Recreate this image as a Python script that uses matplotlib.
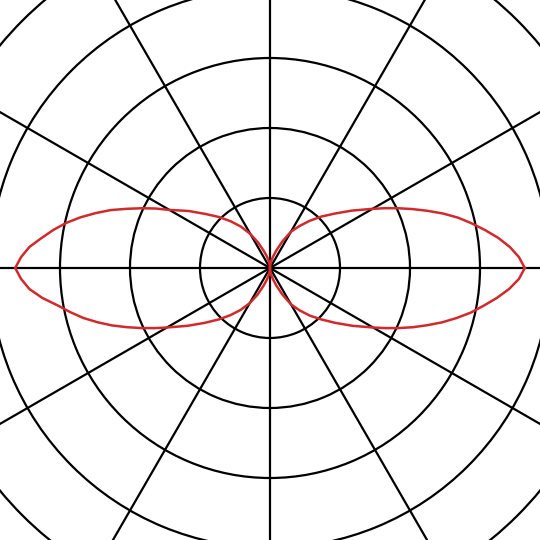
import numpy as np
import matplotlib
matplotlib.use("Agg")
import matplotlib.pyplot as plt

# radiation pattern, radius in grid-ring units
ang_right_up = [0, 2.5, 5, 7.5, 10, 12.5, 15, 17.5, 20, 22.5, 25, 27.5, 30,
                35, 40, 45, 50, 55, 60, 65, 70, 75, 80, 85, 90]
r_right_up = [3.64, 3.56, 3.44, 3.29, 3.12, 2.95, 2.78, 2.59, 2.39, 2.20, 2.02, 1.85, 1.69,
              1.43, 1.21, 1.04, 0.88, 0.73, 0.60, 0.42, 0.27, 0.17, 0.10, 0.04, 0.0]
ang_left_up = [90, 95, 100, 105, 110, 115, 120, 125, 130, 135, 140, 145, 150,
               152.5, 155, 157.5, 160, 162.5, 165, 167.5, 170, 172.5, 175, 177.5, 180]
r_left_up = [0.0, 0.04, 0.10, 0.17, 0.26, 0.40, 0.56, 0.72, 0.87, 1.03, 1.20, 1.42, 1.66,
             1.84, 2.02, 2.21, 2.42, 2.61, 2.80, 2.98, 3.14, 3.29, 3.45, 3.56, 3.64]
ang_left_dn = [180, 182.5, 185, 187.5, 190, 192.5, 195, 197.5, 200, 202.5, 205, 207.5, 210,
               215, 220, 225, 230, 235, 240, 245, 250, 255, 260, 265, 270]
r_left_dn = [3.64, 3.56, 3.45, 3.28, 3.08, 2.92, 2.76, 2.58, 2.40, 2.21, 2.03, 1.86, 1.70,
             1.44, 1.22, 1.04, 0.88, 0.73, 0.58, 0.42, 0.27, 0.17, 0.10, 0.04, 0.0]
ang_right_dn = [270, 275, 280, 285, 290, 295, 300, 305, 310, 315, 320, 325, 330,
                332.5, 335, 337.5, 340, 342.5, 345, 347.5, 350, 352.5, 355, 357.5, 360]
r_right_dn = [0.0, 0.04, 0.10, 0.17, 0.27, 0.42, 0.60, 0.74, 0.89, 1.04, 1.22, 1.44, 1.70,
              1.86, 2.03, 2.21, 2.39, 2.58, 2.76, 2.94, 3.10, 3.27, 3.43, 3.56, 3.64]

rings = [1, 2, 3, 4, 5]
spokes = list(range(0, 360, 30))

theta = np.deg2rad(ang_right_up + ang_left_up[1:] + ang_left_dn[1:] + ang_right_dn[1:])
radius = np.array(r_right_up + r_left_up[1:] + r_left_dn[1:] + r_right_dn[1:])

fig = plt.figure(figsize=(5.4, 5.4), dpi=100)
rmax = 6.0
R = rmax * 70.0  # one ring = 70 px
cx, cy = 270.0, 272.0
ax = fig.add_axes([(cx - R) / 540, (cy - R) / 540, 2 * R / 540, 2 * R / 540],
                  projection='polar')
ax.set_ylim(0, rmax)
ax.set_rticks(rings)
ax.set_thetagrids(spokes, labels=[''] * len(spokes))
ax.set_yticklabels([])
ax.grid(True, color='black', linewidth=1.6)
ax.spines['polar'].set_visible(False)
ax.set_facecolor('white')

ax.plot(theta, radius, color='#d02a2c', linewidth=1.8, zorder=5)

fig.savefig('out.png', dpi=100)
